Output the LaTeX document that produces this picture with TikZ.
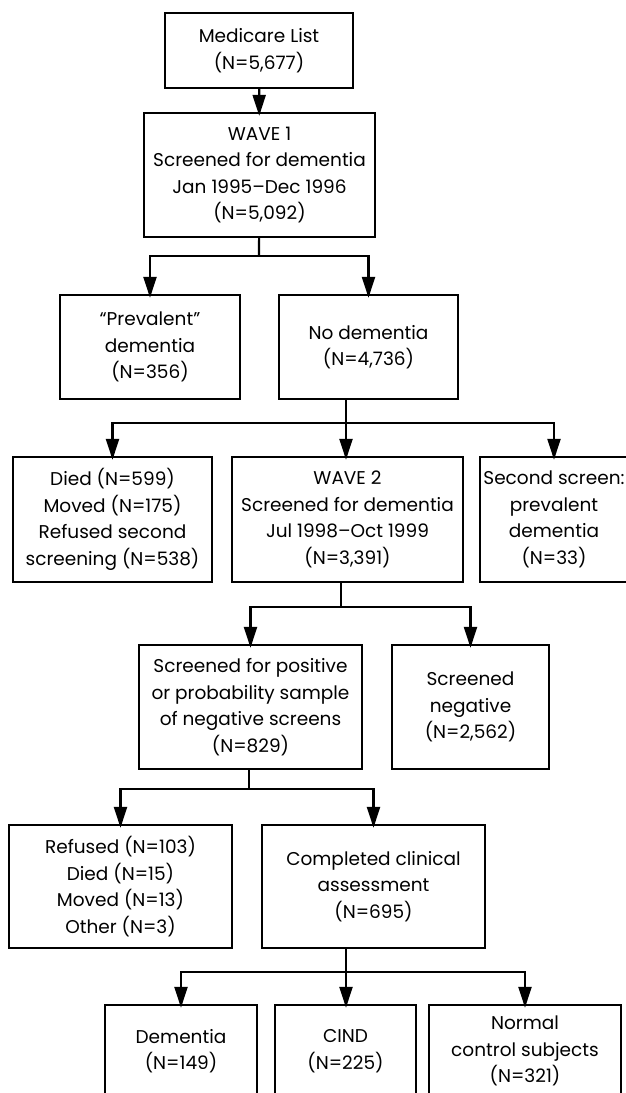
\documentclass[tikz,border=0pt]{standalone}
\usepackage{fontspec}
\setmainfont{Poppins}
\usetikzlibrary{arrows.meta}

\tikzset{
  box/.style={draw, line width=2.4pt, align=center, inner sep=0pt,
    font={\fontsize{18.5pt}{26.5pt}\selectfont}},
  link/.style={line width=2.2pt},
  arr/.style={line width=2.2pt, shorten >=-4pt,
    -{Triangle[length=21pt,width=13pt]}}
}

\begin{document}
\begin{tikzpicture}[x=1pt, y=-1pt]

    % --- Frame ---
    \useasboundingbox (0,0) rectangle (626,1093);

    % --- Junction points ---
    \coordinate (J1) at (259,256);
    \coordinate (J2) at (346,423);
    \coordinate (J3) at (341,607);
    \coordinate (J4) at (249,789);
    \coordinate (J5) at (346,972);

    % --- Boxes, row by row ---
    \node[box, minimum width=188pt, minimum height=75pt] (medicare) at (259,50.5)
      {Medicare List\\(N=5,677)};
    \node[box, minimum width=231pt, minimum height=124pt] (wave1) at (259.5,175)
      {WAVE 1\\Screened for dementia\\Jan 1995–Dec 1996\\(N=5,092)};

    \node[box, minimum width=180pt, minimum height=104pt] (prev) at (150,347)
      {“Prevalent”\\dementia\\(N=356)};
    \node[box, minimum width=179pt, minimum height=104pt] (nodem) at (368.5,347)
      {No dementia\\(N=4,736)};

    \node[box, minimum width=199pt, minimum height=125pt] (lost1) at (112.5,519.5)
      {Died (N=599)\\Moved (N=175)\\Refused second\\screening (N=538)};
    \node[box, minimum width=231pt, minimum height=125pt] (wave2) at (347.5,519.5)
      {WAVE 2\\Screened for dementia\\Jul 1998–Oct 1999\\(N=3,391)};
    \node[box, minimum width=148pt, minimum height=125pt] (second) at (554,519.5)
      {Second screen:\\prevalent\\dementia\\(N=33)};

    \node[box, minimum width=223pt, minimum height=124pt] (pos) at (250.5,707)
      {Screened for positive\\or probability sample\\of negative screens\\(N=829)};
    \node[box, minimum width=157pt, minimum height=124pt] (neg) at (470.5,707)
      {Screened\\negative\\(N=2,562)};

    \node[box, minimum width=223pt, minimum height=123pt] (lost2) at (120.5,886.5)
      {Refused (N=103)\\Died (N=15)\\Moved (N=13)\\Other (N=3)};
    \node[box, minimum width=223pt, minimum height=123pt] (clin) at (373.5,886.5)
      {Completed clinical\\assessment\\(N=695)};

    \node[box, minimum width=152pt, minimum height=92pt] (dem) at (181,1051)
      {Dementia\\(N=149)};
    \node[box, minimum width=141pt, minimum height=92pt] (cind) at (345.5,1051)
      {CIND\\(N=225)};
    \node[box, minimum width=192pt, minimum height=92pt] (normal) at (525,1051)
      {Normal\\control subjects\\(N=321)};

    % --- Connectors ---
    \draw[arr] (medicare) -- (wave1);

    \draw[link] (wave1) -- (J1);
    \draw[arr] (J1) -| (prev.north);
    \draw[arr] (J1) -| (nodem.north);

    \draw[link] (nodem.south -| J2) -- (J2);
    \draw[arr] (J2) -| (lost1.north);
    \draw[arr] (J2) -- (wave2.north -| J2);
    \draw[arr] (J2) -| (second.north);

    \draw[link] (wave2.south -| J3) -- (J3);
    \draw[arr] (J3) -| (pos.north);
    \draw[arr] (J3) -| (neg.north);

    \draw[link] (pos.south -| J4) -- (J4);
    \draw[arr] (J4) -| (lost2.north);
    \draw[arr] (J4) -| (clin.north);

    \draw[link] (clin.south -| J5) -- (J5);
    \draw[arr] (J5) -| (dem.north);
    \draw[arr] (J5) -- (cind.north -| J5);
    \draw[arr] (J5) -| (normal.north);

\end{tikzpicture}
\end{document}
